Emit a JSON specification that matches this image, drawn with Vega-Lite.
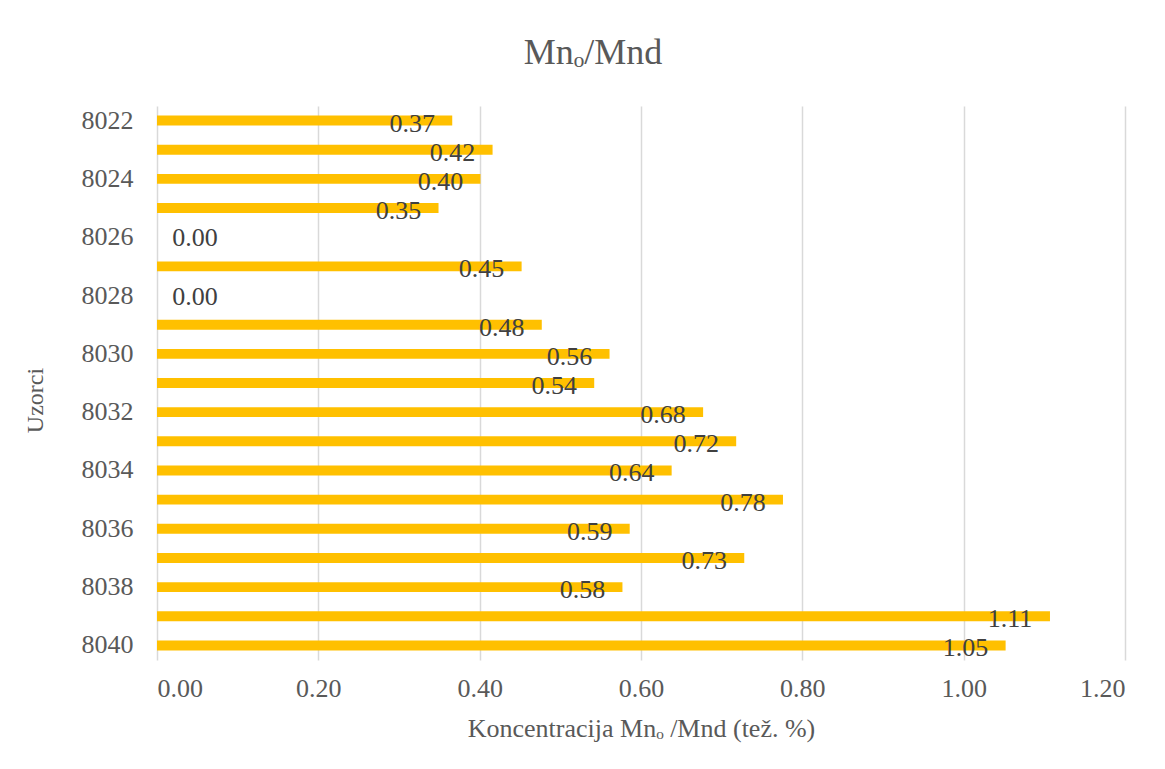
{
  "$schema": "https://vega.github.io/schema/vega-lite/v6.json",
  "width": 968,
  "height": 554,
  "autosize": "none",
  "padding": {"left": 157, "top": 106, "right": 40, "bottom": 109},
  "background": "white",
  "title": {
    "text": "Mnₒ/Mnd",
    "font": "Liberation Serif",
    "fontSize": 36,
    "fontWeight": "normal",
    "color": "#595959",
    "anchor": "middle",
    "dx": -48,
    "offset": 34
  },
  "config": {
    "view": {"stroke": null},
    "font": "Liberation Serif"
  },
  "data": {
    "values": [
      {"uzorak": "8022", "value": 0.366},
      {"uzorak": "8023", "value": 0.416},
      {"uzorak": "8024", "value": 0.401},
      {"uzorak": "8025", "value": 0.349},
      {"uzorak": "8026", "value": 0.0},
      {"uzorak": "8027", "value": 0.452},
      {"uzorak": "8028", "value": 0.0},
      {"uzorak": "8029", "value": 0.477},
      {"uzorak": "8030", "value": 0.561},
      {"uzorak": "8031", "value": 0.542},
      {"uzorak": "8032", "value": 0.677},
      {"uzorak": "8033", "value": 0.718},
      {"uzorak": "8034", "value": 0.638},
      {"uzorak": "8035", "value": 0.776},
      {"uzorak": "8036", "value": 0.586},
      {"uzorak": "8037", "value": 0.728},
      {"uzorak": "8038", "value": 0.577},
      {"uzorak": "8039", "value": 1.107},
      {"uzorak": "8040", "value": 1.052}
    ]
  },
  "encoding": {
    "y": {
      "field": "uzorak",
      "type": "nominal",
      "sort": null,
      "scale": {"paddingInner": 0.66, "paddingOuter": 0.33},
      "axis": {
        "values": ["8022", "8024", "8026", "8028", "8030", "8032", "8034", "8036", "8038", "8040"],
        "title": "Uzorci",
        "titleFont": "Liberation Serif",
        "titleFontSize": 24,
        "titleFontWeight": "normal",
        "titleColor": "#595959",
        "titlePadding": 34,
        "titleY": 294,
        "labelFont": "Liberation Serif",
        "labelFontSize": 26,
        "labelColor": "#595959",
        "labelPadding": 24,
        "ticks": false,
        "domain": false,
        "grid": false
      }
    },
    "x": {
      "field": "value",
      "type": "quantitative",
      "scale": {"domain": [0, 1.2], "nice": false},
      "axis": {
        "values": [0, 0.2, 0.4, 0.6, 0.8, 1.0, 1.2],
        "format": ".2f",
        "title": "Koncentracija Mnₒ /Mnd (tež. %)",
        "titleFont": "Liberation Serif",
        "titleFontSize": 26,
        "titleFontWeight": "normal",
        "titleColor": "#595959",
        "titlePadding": 14,
        "labelFont": "Liberation Serif",
        "labelFontSize": 26,
        "labelColor": "#595959",
        "labelPadding": 15,
        "ticks": false,
        "domain": false,
        "grid": true,
        "gridColor": "#d9d9d9",
        "gridWidth": 1.5
      }
    }
  },
  "layer": [
    {
      "mark": {"type": "bar", "color": "#ffc000"}
    },
    {
      "transform": [{"filter": "datum.value > 0"}],
      "mark": {"type": "text", "font": "Liberation Serif", "fontSize": 26, "color": "#404040", "align": "center", "baseline": "middle", "dx": -40, "dy": 3},
      "encoding": {"text": {"field": "value", "type": "quantitative", "format": ".2f"}}
    },
    {
      "transform": [{"filter": "datum.value == 0"}],
      "mark": {"type": "text", "font": "Liberation Serif", "fontSize": 26, "color": "#404040", "align": "center", "baseline": "middle", "dx": 38, "dy": 1},
      "encoding": {"text": {"field": "value", "type": "quantitative", "format": ".2f"}}
    }
  ]
}
